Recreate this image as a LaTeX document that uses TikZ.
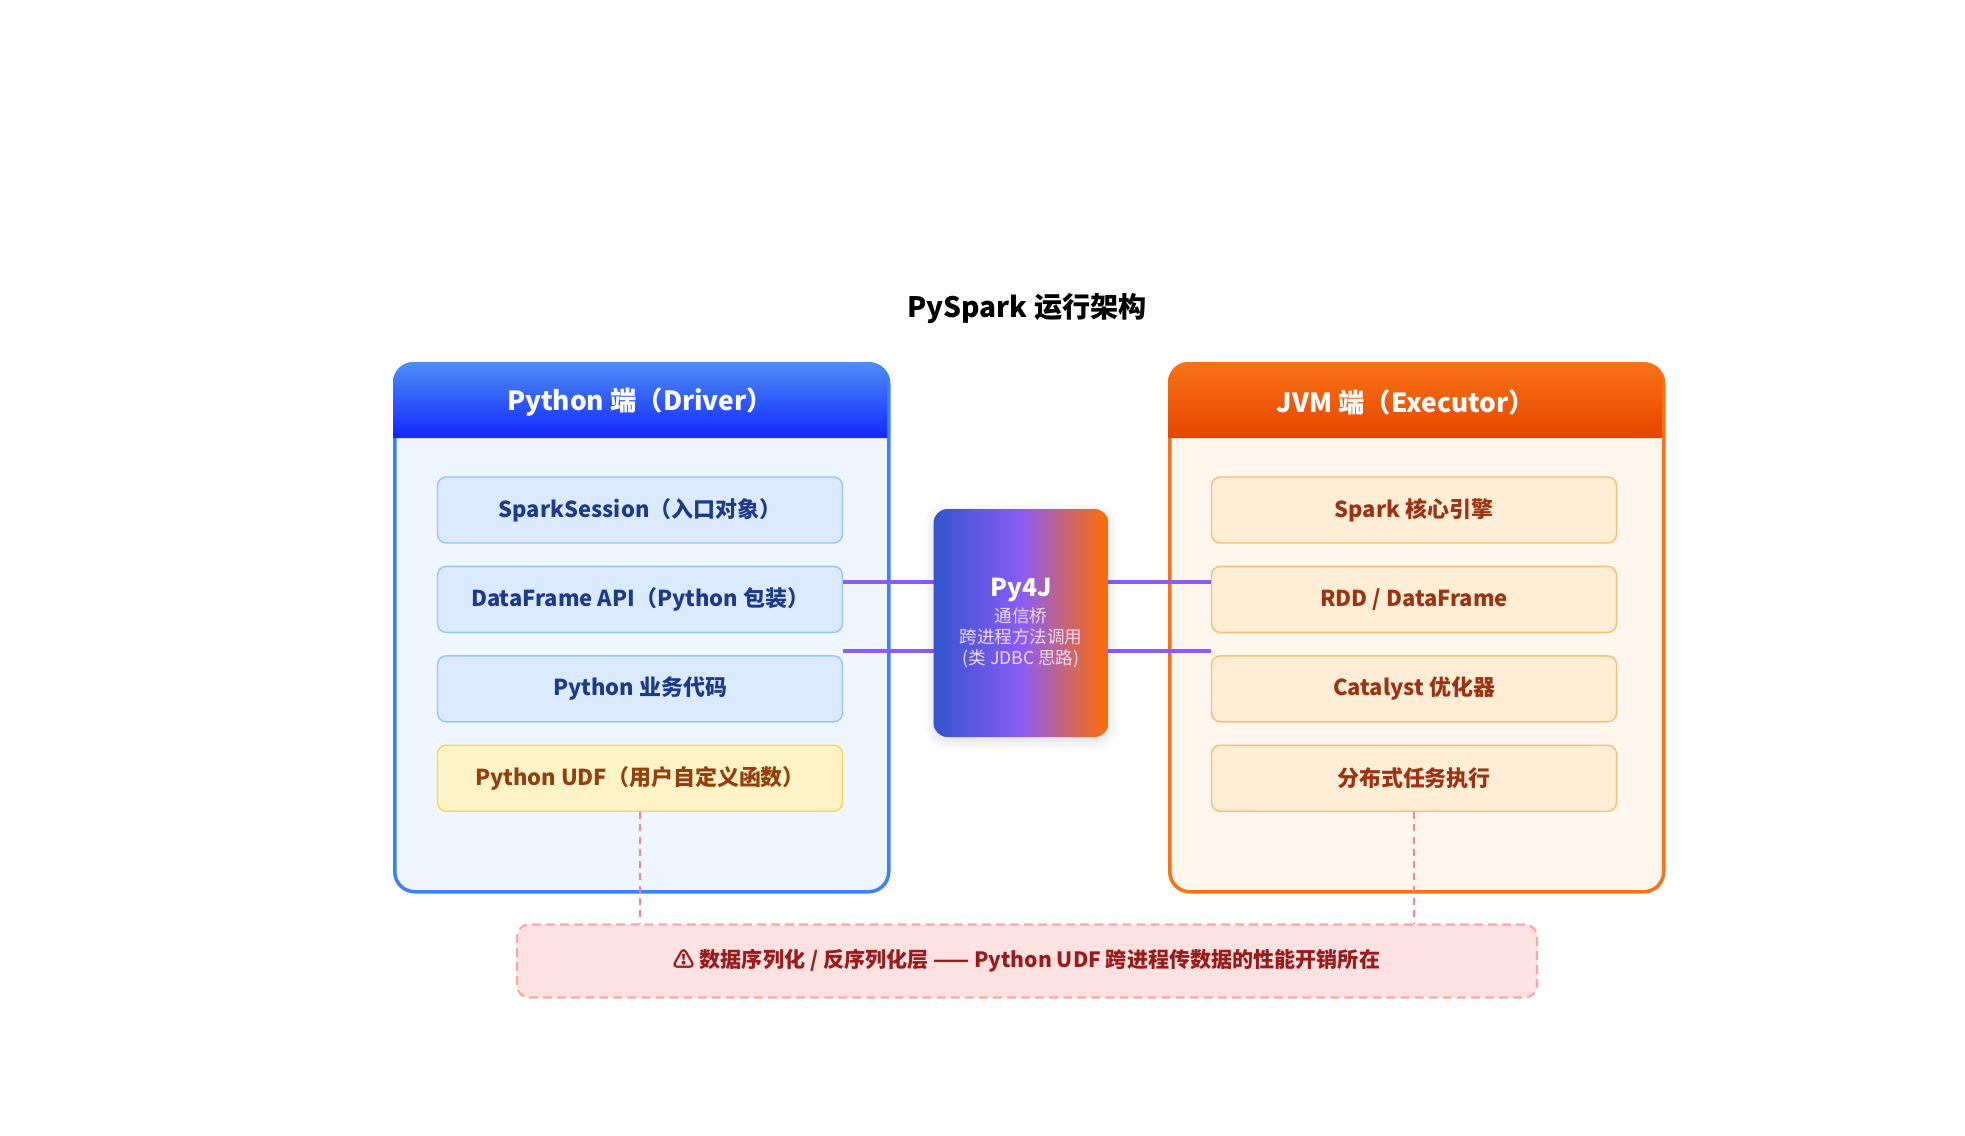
\documentclass[tikz,border=0pt]{standalone}
\usepackage{fontspec}
\setmainfont{Noto Sans CJK SC}
\usetikzlibrary{positioning,shadows.blur}
\definecolor{pyblue}{HTML}{3B82F6}
\definecolor{pyfill}{HTML}{EFF6FF}
\definecolor{pyitem}{HTML}{DBEAFE}
\definecolor{pyline}{HTML}{93C5FD}
\definecolor{pytext}{HTML}{1E3A8A}
\definecolor{jvmorange}{HTML}{F97316}
\definecolor{jvmfill}{HTML}{FFF7ED}
\definecolor{jvmitem}{HTML}{FFEDD5}
\definecolor{jvmline}{HTML}{FDBA74}
\definecolor{jvmtext}{HTML}{9A3412}
\definecolor{udffill}{HTML}{FEF3C7}
\definecolor{udfline}{HTML}{FCD34D}
\definecolor{udftext}{HTML}{92400E}
\definecolor{warnfill}{HTML}{FEE2E2}
\definecolor{warnline}{HTML}{FCA5A5}
\definecolor{warntext}{HTML}{991B1B}
\definecolor{bridge}{HTML}{8B5CF6}
\tikzset{
    panel/.style={draw, line width=2pt, rounded corners=20*0.2mm, minimum width=494*0.2mm, minimum height=528*0.2mm, anchor=north west},
    item/.style={draw, line width=0.8pt, rounded corners=5pt, minimum width=405*0.2mm, minimum height=66*0.2mm, font=\fontsize{12.5}{15}\selectfont\bfseries},
    pyitem/.style={item, fill=pyitem, draw=pyline, text=pytext},
    jvmitem/.style={item, fill=jvmitem, draw=jvmline, text=jvmtext},
    link/.style={draw=bridge, line width=2.2pt},
    drop/.style={draw=warnline!80!red, line width=1pt, dash pattern=on 4pt off 3pt}
}
\begin{document}
\begin{tikzpicture}[x=0.2mm, y=-0.2mm]
    \useasboundingbox (0,0) rectangle (1965,1136);
    \node (title) at (1027,309) {\fontsize{16}{19}\selectfont\bfseries PySpark 运行架构};

    % Python side
    \node[panel, draw=pyblue, fill=pyfill] (pypanel) at (393,362) {};
    \path[top color=pyblue!90!white, bottom color=blue!70!pyblue] (393,438) [rounded corners=20*0.2mm] -- (393,362) -- (887,362) [sharp corners] -- (887,438) -- cycle;
    \node[text=white, font=\fontsize{15}{18}\selectfont\bfseries] (pyhead) at (640,402) {Python 端（Driver）};
    \node[pyitem] (session) at (640,510) {SparkSession（入口对象）};
    \node[pyitem, below=22*0.2mm of session] (dfapi) {DataFrame API（Python 包装）};
    \node[pyitem, below=22*0.2mm of dfapi] (pycode) {Python 业务代码};
    \node[item, fill=udffill, draw=udfline, text=udftext, below=22*0.2mm of pycode] (udf) {Python UDF（用户自定义函数）};

    % JVM side
    \node[panel, draw=jvmorange, fill=jvmfill] (jvmpanel) at (1168,362) {};
    \path[top color=jvmorange, bottom color=orange!60!red!90!black] (1168,438) [rounded corners=20*0.2mm] -- (1168,362) -- (1662,362) [sharp corners] -- (1662,438) -- cycle;
    \node[text=white, font=\fontsize{15}{18}\selectfont\bfseries] (jvmhead) at (1406,402) {JVM 端（Executor）};
    \node[jvmitem] (core) at (1414,510) {Spark 核心引擎};
    \node[jvmitem, below=22*0.2mm of core] (rdd) {RDD / DataFrame};
    \node[jvmitem, below=22*0.2mm of rdd] (catalyst) {Catalyst 优化器};
    \node[jvmitem, below=22*0.2mm of catalyst] (tasks) {分布式任务执行};

    % bridge
    \path[link] (dfapi.east |- 0,582) -- (1021,582) (pycode.east |- 0,651) -- (1021,651);
    \path[link] (1021,582) -- (rdd.west |- 0,582) (1021,651) -- (catalyst.west |- 0,651);
    \node[minimum width=175*0.2mm, minimum height=228*0.2mm, rounded corners=14*0.2mm, left color=blue!45!cyan!60!violet, right color=orange!85!red, middle color=bridge, blur shadow={shadow blur radius=6pt, shadow opacity=15, shadow xshift=0pt, shadow yshift=-2pt}, text=white, align=center] (py4j) at (1021,623)
        {{\fontsize{14}{18}\selectfont\bfseries Py4J}\\[3pt]
         \fontsize{10}{16}\selectfont\color{white!85!violet}通信桥\\ \fontsize{10}{16}\selectfont\color{white!85!violet}跨进程方法调用\\ \fontsize{10}{16}\selectfont\color{white!85!violet}(类 JDBC 思路)};

    % serialization layer
    \node[draw=warnline, fill=warnfill, line width=1.2pt, dash pattern=on 5pt off 3pt, rounded corners=12*0.2mm, minimum width=1020*0.2mm, minimum height=73*0.2mm, text=warntext, font=\fontsize{12}{15}\selectfont\bfseries] (serde) at (1027,961)
        {⚠ 数据序列化 / 反序列化层 —— Python UDF 跨进程传数据的性能开销所在};
    \draw[drop] (udf.south) -- (serde.north -| udf.south);
    \draw[drop] (tasks.south) -- (serde.north -| tasks.south);
\end{tikzpicture}
\end{document}
